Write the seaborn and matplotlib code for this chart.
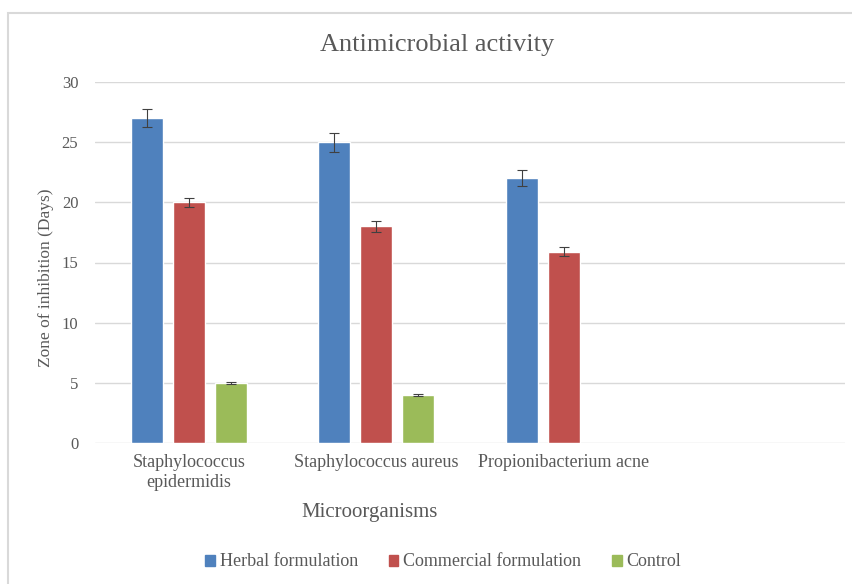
import matplotlib
matplotlib.use("Agg")
import matplotlib.pyplot as plt
import seaborn as sns
import pandas as pd
from matplotlib.patches import Rectangle

# data
organisms = ["Staphylococcus\nepidermidis", "Staphylococcus aureus", "Propionibacterium acne"]
groups = ["Herbal formulation", "Commercial formulation", "Control"]
herbal = [27, 25, 22]
commercial = [20, 18, 15.9]
control = [5, 4, None]
herbal_err = [0.78, 0.8, 0.65]
commercial_err = [0.4, 0.45, 0.35]
control_err = [0.1, 0.1, None]
colors = ["#4F81BD", "#C0504D", "#9BBB59"]

rows = []
for g, vals, errs in zip(groups, [herbal, commercial, control],
                         [herbal_err, commercial_err, control_err]):
    for org, v, e in zip(organisms, vals, errs):
        rows.append({"Microorganisms": org, "group": g, "value": v, "err": e})
df = pd.DataFrame(rows)

sns.set_style("white")
plt.rcParams["font.family"] = ["Liberation Serif", "DejaVu Serif"]
text_color = "#595959"

fig = plt.figure(figsize=(8.53, 5.84), dpi=100)
ax = fig.add_axes([95 / 853, 1 - 443 / 584, 750 / 853, 361 / 584])

sns.barplot(
    data=df, x="Microorganisms", y="value", hue="group",
    order=organisms, hue_order=groups, palette=colors,
    width=0.67, gap=0.23, errorbar=None, saturation=1, ax=ax,
    legend=False
)

# error bars on top of each bar
for container, g in zip(ax.containers, groups):
    sub = df[df["group"] == g].set_index("Microorganisms").loc[organisms]
    for patch, v, e in zip(container.patches, sub["value"], sub["err"]):
        if pd.isna(v):
            continue
        xc = patch.get_x() + patch.get_width() / 2
        ax.errorbar(xc, v, yerr=e, color="#404040", elinewidth=0.8,
                    capsize=3.5, capthick=0.8, zorder=4)

ax.set_xlim(-0.5, 3.5)
ax.set_ylim(0, 30)
ax.set_yticks(range(0, 31, 5))
ax.yaxis.grid(True, color="#D9D9D9", linewidth=1)
ax.set_axisbelow(True)
for s in ax.spines.values():
    s.set_visible(False)
ax.tick_params(axis="y", length=0, labelsize=12, colors=text_color, pad=12)
ax.tick_params(axis="x", length=0, labelsize=13, colors=text_color, pad=8)

fig.text(437 / 853, 1 - 45 / 584, "Antimicrobial activity", fontsize=19,
         color=text_color, ha="center", va="center")
ax.set_xlabel("Microorganisms", fontsize=15, color=text_color)
ax.set_ylabel("Zone of inhibition (Days)", fontsize=12.5, color=text_color)
ax.xaxis.set_label_coords((370 - 95) / 750, -(512 - 443) / 361)
ax.yaxis.set_label_coords(-(95 - 46) / 750, (443 - 278) / 361)
ax.xaxis.label.set_va("center")
ax.yaxis.label.set_va("center")

handles = [Rectangle((0, 0), 1, 1, color=c) for c in colors]
fig.legend(handles, groups, loc="center", bbox_to_anchor=(443 / 853, 1 - 562 / 584),
           ncol=3, frameon=False, fontsize=13, handlelength=0.55, handleheight=0.55,
           handletextpad=0.25, columnspacing=1.7, labelcolor=text_color)

# outer chart border
fig.patches.append(Rectangle((8 / 853, -0.1), 1.2, 1 - 13 / 584 + 0.1,
                             transform=fig.transFigure, fill=False,
                             edgecolor="#D9D9D9", linewidth=1.5))

fig.savefig("out.png", dpi=100)
